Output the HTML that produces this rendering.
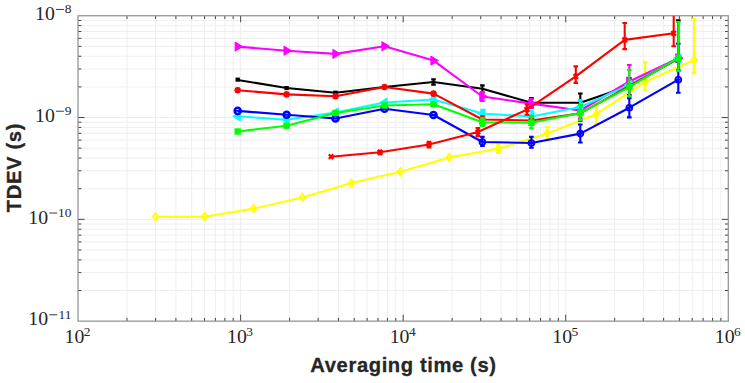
<!DOCTYPE html><html><head><meta charset="utf-8"><style>html,body{margin:0;padding:0;background:#fff;}svg{display:block}</style></head><body>
<svg width="745" height="383" viewBox="0 0 745 383">
<rect width="745" height="383" fill="#fff"/>
<path d="M126.99 15.75V321.15M155.61 15.75V321.15M175.92 15.75V321.15M191.68 15.75V321.15M204.55 15.75V321.15M215.43 15.75V321.15M224.86 15.75V321.15M233.17 15.75V321.15M240.61 15.75V321.15M289.55 15.75V321.15M318.17 15.75V321.15M338.48 15.75V321.15M354.24 15.75V321.15M367.11 15.75V321.15M377.99 15.75V321.15M387.42 15.75V321.15M395.74 15.75V321.15M403.18 15.75V321.15M452.11 15.75V321.15M480.74 15.75V321.15M501.05 15.75V321.15M516.80 15.75V321.15M529.67 15.75V321.15M540.56 15.75V321.15M549.98 15.75V321.15M558.30 15.75V321.15M565.74 15.75V321.15M614.67 15.75V321.15M643.30 15.75V321.15M663.61 15.75V321.15M679.36 15.75V321.15M692.24 15.75V321.15M703.12 15.75V321.15M712.55 15.75V321.15M720.86 15.75V321.15M78.05 290.51H728.30M78.05 272.58H728.30M78.05 259.86H728.30M78.05 249.99H728.30M78.05 241.93H728.30M78.05 235.12H728.30M78.05 229.22H728.30M78.05 224.01H728.30M78.05 219.35H728.30M78.05 188.71H728.30M78.05 170.78H728.30M78.05 158.06H728.30M78.05 148.19H728.30M78.05 140.13H728.30M78.05 133.32H728.30M78.05 127.42H728.30M78.05 122.21H728.30M78.05 117.55H728.30M78.05 86.91H728.30M78.05 68.98H728.30M78.05 56.26H728.30M78.05 46.39H728.30M78.05 38.33H728.30M78.05 31.52H728.30M78.05 25.62H728.30M78.05 20.41H728.30" stroke="#efefef" stroke-width="1" fill="none"/>
<path d="M126.99 321.15v-3.3M126.99 15.75v3.3M155.61 321.15v-3.3M155.61 15.75v3.3M175.92 321.15v-3.3M175.92 15.75v3.3M191.68 321.15v-3.3M191.68 15.75v3.3M204.55 321.15v-3.3M204.55 15.75v3.3M215.43 321.15v-3.3M215.43 15.75v3.3M224.86 321.15v-3.3M224.86 15.75v3.3M233.17 321.15v-3.3M233.17 15.75v3.3M240.61 321.15v-6.5M240.61 15.75v6.5M289.55 321.15v-3.3M289.55 15.75v3.3M318.17 321.15v-3.3M318.17 15.75v3.3M338.48 321.15v-3.3M338.48 15.75v3.3M354.24 321.15v-3.3M354.24 15.75v3.3M367.11 321.15v-3.3M367.11 15.75v3.3M377.99 321.15v-3.3M377.99 15.75v3.3M387.42 321.15v-3.3M387.42 15.75v3.3M395.74 321.15v-3.3M395.74 15.75v3.3M403.18 321.15v-6.5M403.18 15.75v6.5M452.11 321.15v-3.3M452.11 15.75v3.3M480.74 321.15v-3.3M480.74 15.75v3.3M501.05 321.15v-3.3M501.05 15.75v3.3M516.80 321.15v-3.3M516.80 15.75v3.3M529.67 321.15v-3.3M529.67 15.75v3.3M540.56 321.15v-3.3M540.56 15.75v3.3M549.98 321.15v-3.3M549.98 15.75v3.3M558.30 321.15v-3.3M558.30 15.75v3.3M565.74 321.15v-6.5M565.74 15.75v6.5M614.67 321.15v-3.3M614.67 15.75v3.3M643.30 321.15v-3.3M643.30 15.75v3.3M663.61 321.15v-3.3M663.61 15.75v3.3M679.36 321.15v-3.3M679.36 15.75v3.3M692.24 321.15v-3.3M692.24 15.75v3.3M703.12 321.15v-3.3M703.12 15.75v3.3M712.55 321.15v-3.3M712.55 15.75v3.3M720.86 321.15v-3.3M720.86 15.75v3.3M78.05 290.51h3.3M728.30 290.51h-3.3M78.05 272.58h3.3M728.30 272.58h-3.3M78.05 259.86h3.3M728.30 259.86h-3.3M78.05 249.99h3.3M728.30 249.99h-3.3M78.05 241.93h3.3M728.30 241.93h-3.3M78.05 235.12h3.3M728.30 235.12h-3.3M78.05 229.22h3.3M728.30 229.22h-3.3M78.05 224.01h3.3M728.30 224.01h-3.3M78.05 219.35h6.5M728.30 219.35h-6.5M78.05 188.71h3.3M728.30 188.71h-3.3M78.05 170.78h3.3M728.30 170.78h-3.3M78.05 158.06h3.3M728.30 158.06h-3.3M78.05 148.19h3.3M728.30 148.19h-3.3M78.05 140.13h3.3M728.30 140.13h-3.3M78.05 133.32h3.3M728.30 133.32h-3.3M78.05 127.42h3.3M728.30 127.42h-3.3M78.05 122.21h3.3M728.30 122.21h-3.3M78.05 117.55h6.5M728.30 117.55h-6.5M78.05 86.91h3.3M728.30 86.91h-3.3M78.05 68.98h3.3M728.30 68.98h-3.3M78.05 56.26h3.3M728.30 56.26h-3.3M78.05 46.39h3.3M728.30 46.39h-3.3M78.05 38.33h3.3M728.30 38.33h-3.3M78.05 31.52h3.3M728.30 31.52h-3.3M78.05 25.62h3.3M728.30 25.62h-3.3M78.05 20.41h3.3M728.30 20.41h-3.3" stroke="#444" stroke-width="1" fill="none"/>
<rect x="78.05" y="15.75" width="650.25" height="305.40" stroke="#929292" stroke-width="1.25" fill="none"/>
<g clip-path="url(#cp)">
<defs><clipPath id="cp"><rect x="78.05" y="15.75" width="650.25" height="305.4"/></clipPath></defs>
<path d="M155.60 216.80L204.50 216.80L253.50 208.60L302.50 197.40L351.40 183.10L400.40 171.80L449.30 157.40L498.30 148.70L547.20 133.50L596.20 114.20L645.10 82.00L694.10 60.00" stroke="#ffff00" stroke-width="2.1" fill="none" stroke-linejoin="round"/>
<path d="M498.30 144.20V153.00M496.00 144.20h4.6M496.00 153.00h4.6" stroke="#ffff00" stroke-width="2.1" fill="none"/>
<path d="M547.20 127.20V139.30M544.90 127.20h4.6M544.90 139.30h4.6" stroke="#ffff00" stroke-width="2.1" fill="none"/>
<path d="M596.20 104.00V124.00M593.90 104.00h4.6M593.90 124.00h4.6" stroke="#ffff00" stroke-width="2.1" fill="none"/>
<path d="M645.10 62.00V90.30M642.80 62.00h4.6M642.80 90.30h4.6" stroke="#ffff00" stroke-width="2.1" fill="none"/>
<path d="M694.10 18.80V73.20M691.80 18.80h4.6M691.80 73.20h4.6" stroke="#ffff00" stroke-width="2.1" fill="none"/>
<path d="M155.60 211.60L159.50 216.80L155.60 222.00L151.70 216.80ZM155.60 214.60L154.00 216.80L155.60 219.00L157.20 216.80Z" fill="#ffff00" fill-rule="evenodd"/>
<path d="M204.50 211.60L208.40 216.80L204.50 222.00L200.60 216.80ZM204.50 214.60L202.90 216.80L204.50 219.00L206.10 216.80Z" fill="#ffff00" fill-rule="evenodd"/>
<path d="M253.50 203.40L257.40 208.60L253.50 213.80L249.60 208.60ZM253.50 206.40L251.90 208.60L253.50 210.80L255.10 208.60Z" fill="#ffff00" fill-rule="evenodd"/>
<path d="M302.50 192.20L306.40 197.40L302.50 202.60L298.60 197.40ZM302.50 195.20L300.90 197.40L302.50 199.60L304.10 197.40Z" fill="#ffff00" fill-rule="evenodd"/>
<path d="M351.40 177.90L355.30 183.10L351.40 188.30L347.50 183.10ZM351.40 180.90L349.80 183.10L351.40 185.30L353.00 183.10Z" fill="#ffff00" fill-rule="evenodd"/>
<path d="M400.40 166.60L404.30 171.80L400.40 177.00L396.50 171.80ZM400.40 169.60L398.80 171.80L400.40 174.00L402.00 171.80Z" fill="#ffff00" fill-rule="evenodd"/>
<path d="M449.30 152.20L453.20 157.40L449.30 162.60L445.40 157.40ZM449.30 155.20L447.70 157.40L449.30 159.60L450.90 157.40Z" fill="#ffff00" fill-rule="evenodd"/>
<path d="M498.30 143.50L502.20 148.70L498.30 153.90L494.40 148.70ZM498.30 146.50L496.70 148.70L498.30 150.90L499.90 148.70Z" fill="#ffff00" fill-rule="evenodd"/>
<path d="M547.20 128.30L551.10 133.50L547.20 138.70L543.30 133.50ZM547.20 131.30L545.60 133.50L547.20 135.70L548.80 133.50Z" fill="#ffff00" fill-rule="evenodd"/>
<path d="M596.20 109.00L600.10 114.20L596.20 119.40L592.30 114.20ZM596.20 112.00L594.60 114.20L596.20 116.40L597.80 114.20Z" fill="#ffff00" fill-rule="evenodd"/>
<path d="M645.10 76.80L649.00 82.00L645.10 87.20L641.20 82.00ZM645.10 79.80L643.50 82.00L645.10 84.20L646.70 82.00Z" fill="#ffff00" fill-rule="evenodd"/>
<path d="M694.10 54.80L698.00 60.00L694.10 65.20L690.20 60.00ZM694.10 57.80L692.50 60.00L694.10 62.20L695.70 60.00Z" fill="#ffff00" fill-rule="evenodd"/>
<path d="M237.70 80.00L286.60 88.00L335.50 92.80L384.50 87.00L433.50 82.00L482.40 88.70L531.40 102.70L580.30 102.70L629.30 86.00L678.30 58.50" stroke="#000000" stroke-width="2.1" fill="none" stroke-linejoin="round"/>
<rect x="235.50" y="77.60" width="4.4" height="4.10" fill="#000000"/>
<rect x="284.40" y="86.00" width="4.4" height="4.10" fill="#000000"/>
<rect x="333.30" y="90.60" width="4.4" height="4.10" fill="#000000"/>
<path d="M433.50 79.40V84.60M431.20 79.40h4.6M431.20 84.60h4.6" stroke="#000000" stroke-width="2.1" fill="none"/>
<path d="M482.40 85.40V92.50M480.10 85.40h4.6M480.10 92.50h4.6" stroke="#000000" stroke-width="2.1" fill="none"/>
<path d="M531.40 98.00V107.50M529.10 98.00h4.6M529.10 107.50h4.6" stroke="#000000" stroke-width="2.1" fill="none"/>
<path d="M580.30 93.50V112.00M578.00 93.50h4.6M578.00 112.00h4.6" stroke="#000000" stroke-width="2.1" fill="none"/>
<path d="M629.30 78.00V95.00M627.00 78.00h4.6M627.00 95.00h4.6" stroke="#000000" stroke-width="2.1" fill="none"/>
<path d="M678.30 20.40V70.40M676.00 20.40h4.6M676.00 70.40h4.6" stroke="#000000" stroke-width="2.1" fill="none"/>










<path d="M237.70 46.60L286.60 50.70L335.50 53.90L384.50 46.20L433.50 60.60L482.40 96.50L531.40 103.60L580.30 110.50L629.30 81.50L678.30 58.30" stroke="#ff00ff" stroke-width="2.1" fill="none" stroke-linejoin="round"/>
<path d="M482.40 92.00V101.00M480.10 92.00h4.6M480.10 101.00h4.6" stroke="#ff00ff" stroke-width="2.1" fill="none"/>
<path d="M531.40 99.00V108.00M529.10 99.00h4.6M529.10 108.00h4.6" stroke="#ff00ff" stroke-width="2.1" fill="none"/>
<path d="M580.30 100.50V118.60M578.00 100.50h4.6M578.00 118.60h4.6" stroke="#ff00ff" stroke-width="2.1" fill="none"/>
<path d="M629.30 65.00V96.00M627.00 65.00h4.6M627.00 96.00h4.6" stroke="#ff00ff" stroke-width="2.1" fill="none"/>
<path d="M235.10 42.00L242.60 46.60L235.10 51.20Z" fill="#ff00ff" stroke="#ff00ff" stroke-width="1"/>
<path d="M284.00 46.10L291.50 50.70L284.00 55.30Z" fill="#ff00ff" stroke="#ff00ff" stroke-width="1"/>
<path d="M332.90 49.30L340.40 53.90L332.90 58.50Z" fill="#ff00ff" stroke="#ff00ff" stroke-width="1"/>
<path d="M381.90 41.60L389.40 46.20L381.90 50.80Z" fill="#ff00ff" stroke="#ff00ff" stroke-width="1"/>
<path d="M430.90 56.00L438.40 60.60L430.90 65.20Z" fill="#ff00ff" stroke="#ff00ff" stroke-width="1"/>
<path d="M479.80 91.90L487.30 96.50L479.80 101.10Z" fill="#ff00ff" stroke="#ff00ff" stroke-width="1"/>
<path d="M528.80 99.00L536.30 103.60L528.80 108.20Z" fill="#ff00ff" stroke="#ff00ff" stroke-width="1"/>
<path d="M577.70 105.90L585.20 110.50L577.70 115.10Z" fill="#ff00ff" stroke="#ff00ff" stroke-width="1"/>
<path d="M626.70 76.90L634.20 81.50L626.70 86.10Z" fill="#ff00ff" stroke="#ff00ff" stroke-width="1"/>
<path d="M675.70 53.70L683.20 58.30L675.70 62.90Z" fill="#ff00ff" stroke="#ff00ff" stroke-width="1"/>
<path d="M237.70 116.30L286.60 119.70L335.50 112.50L384.50 102.50L433.50 99.50L482.40 113.50L531.40 116.50L580.30 107.00L629.30 85.00L678.30 58.20" stroke="#00ffff" stroke-width="2.1" fill="none" stroke-linejoin="round"/>
<path d="M482.40 109.80V117.00M480.10 109.80h4.6M480.10 117.00h4.6" stroke="#00ffff" stroke-width="2.1" fill="none"/>
<path d="M531.40 111.00V121.00M529.10 111.00h4.6M529.10 121.00h4.6" stroke="#00ffff" stroke-width="2.1" fill="none"/>
<path d="M580.30 100.40V113.00M578.00 100.40h4.6M578.00 113.00h4.6" stroke="#00ffff" stroke-width="2.1" fill="none"/>
<path d="M240.30 111.70L232.80 116.30L240.30 120.90Z" fill="#00ffff" stroke="#00ffff" stroke-width="1"/>
<path d="M289.20 115.10L281.70 119.70L289.20 124.30Z" fill="#00ffff" stroke="#00ffff" stroke-width="1"/>
<path d="M338.10 107.90L330.60 112.50L338.10 117.10Z" fill="#00ffff" stroke="#00ffff" stroke-width="1"/>
<path d="M387.10 97.90L379.60 102.50L387.10 107.10Z" fill="#00ffff" stroke="#00ffff" stroke-width="1"/>
<path d="M436.10 94.90L428.60 99.50L436.10 104.10Z" fill="#00ffff" stroke="#00ffff" stroke-width="1"/>
<path d="M485.00 108.90L477.50 113.50L485.00 118.10Z" fill="#00ffff" stroke="#00ffff" stroke-width="1"/>
<path d="M534.00 111.90L526.50 116.50L534.00 121.10Z" fill="#00ffff" stroke="#00ffff" stroke-width="1"/>
<path d="M582.90 102.40L575.40 107.00L582.90 111.60Z" fill="#00ffff" stroke="#00ffff" stroke-width="1"/>
<path d="M631.90 80.40L624.40 85.00L631.90 89.60Z" fill="#00ffff" stroke="#00ffff" stroke-width="1"/>
<path d="M680.90 53.60L673.40 58.20L680.90 62.80Z" fill="#00ffff" stroke="#00ffff" stroke-width="1"/>
<path d="M237.70 90.20L286.60 94.40L335.50 96.20L384.50 87.00L433.50 93.60L482.40 119.50L531.40 120.50L580.30 113.40L629.30 86.00L678.30 58.40" stroke="#ff0000" stroke-width="2.1" fill="none" stroke-linejoin="round"/>
<rect x="431.30" y="90.90" width="4.4" height="5.60" fill="#ff0000"/>
<path d="M482.40 116.30V123.00M480.10 116.30h4.6M480.10 123.00h4.6" stroke="#ff0000" stroke-width="2.1" fill="none"/>
<path d="M531.40 116.00V125.00M529.10 116.00h4.6M529.10 125.00h4.6" stroke="#ff0000" stroke-width="2.1" fill="none"/>
<path d="M580.30 105.00V121.00M578.00 105.00h4.6M578.00 121.00h4.6" stroke="#ff0000" stroke-width="2.1" fill="none"/>
<path d="M237.70 86.90V93.50M234.40 90.20H241.00M235.30 87.80L240.10 92.60M240.10 87.80L235.30 92.60" stroke="#ff0000" stroke-width="2" fill="none"/>
<path d="M286.60 91.10V97.70M283.30 94.40H289.90M284.20 92.00L289.00 96.80M289.00 92.00L284.20 96.80" stroke="#ff0000" stroke-width="2" fill="none"/>
<path d="M335.50 92.90V99.50M332.20 96.20H338.80M333.10 93.80L337.90 98.60M337.90 93.80L333.10 98.60" stroke="#ff0000" stroke-width="2" fill="none"/>
<path d="M384.50 83.70V90.30M381.20 87.00H387.80M382.10 84.60L386.90 89.40M386.90 84.60L382.10 89.40" stroke="#ff0000" stroke-width="2" fill="none"/>
<path d="M433.50 90.30V96.90M430.20 93.60H436.80M431.10 91.20L435.90 96.00M435.90 91.20L431.10 96.00" stroke="#ff0000" stroke-width="2" fill="none"/>
<path d="M482.40 116.20V122.80M479.10 119.50H485.70M480.00 117.10L484.80 121.90M484.80 117.10L480.00 121.90" stroke="#ff0000" stroke-width="2" fill="none"/>
<path d="M531.40 117.20V123.80M528.10 120.50H534.70M529.00 118.10L533.80 122.90M533.80 118.10L529.00 122.90" stroke="#ff0000" stroke-width="2" fill="none"/>
<path d="M580.30 110.10V116.70M577.00 113.40H583.60M577.90 111.00L582.70 115.80M582.70 111.00L577.90 115.80" stroke="#ff0000" stroke-width="2" fill="none"/>
<path d="M629.30 82.70V89.30M626.00 86.00H632.60M626.90 83.60L631.70 88.40M631.70 83.60L626.90 88.40" stroke="#ff0000" stroke-width="2" fill="none"/>
<path d="M678.30 55.10V61.70M675.00 58.40H681.60M675.90 56.00L680.70 60.80M680.70 56.00L675.90 60.80" stroke="#ff0000" stroke-width="2" fill="none"/>
<path d="M237.70 110.90L286.60 114.70L335.50 118.50L384.50 108.80L433.50 115.00L482.40 142.00L531.40 143.00L580.30 133.60L629.30 107.70L678.30 79.70" stroke="#0000ff" stroke-width="2.1" fill="none" stroke-linejoin="round"/>
<path d="M482.40 136.90V146.00M480.10 136.90h4.6M480.10 146.00h4.6" stroke="#0000ff" stroke-width="2.1" fill="none"/>
<path d="M531.40 136.90V147.80M529.10 136.90h4.6M529.10 147.80h4.6" stroke="#0000ff" stroke-width="2.1" fill="none"/>
<path d="M580.30 124.50V142.50M578.00 124.50h4.6M578.00 142.50h4.6" stroke="#0000ff" stroke-width="2.1" fill="none"/>
<path d="M629.30 98.30V117.40M627.00 98.30h4.6M627.00 117.40h4.6" stroke="#0000ff" stroke-width="2.1" fill="none"/>
<path d="M678.30 43.80V92.70M676.00 43.80h4.6M676.00 92.70h4.6" stroke="#0000ff" stroke-width="2.1" fill="none"/>
<circle cx="237.7" cy="110.9" r="3.05" fill="none" stroke="#0000ff" stroke-width="2.5"/><path d="M235.50 110.90h4.4" stroke="#0000ff" stroke-width="1.6"/>
<circle cx="286.6" cy="114.7" r="3.05" fill="none" stroke="#0000ff" stroke-width="2.5"/><path d="M284.40 114.70h4.4" stroke="#0000ff" stroke-width="1.6"/>
<circle cx="335.5" cy="118.5" r="3.05" fill="none" stroke="#0000ff" stroke-width="2.5"/><path d="M333.30 118.50h4.4" stroke="#0000ff" stroke-width="1.6"/>
<circle cx="384.5" cy="108.8" r="3.05" fill="none" stroke="#0000ff" stroke-width="2.5"/><path d="M382.30 108.80h4.4" stroke="#0000ff" stroke-width="1.6"/>
<circle cx="433.5" cy="115" r="3.05" fill="none" stroke="#0000ff" stroke-width="2.5"/><path d="M431.30 115.00h4.4" stroke="#0000ff" stroke-width="1.6"/>
<circle cx="482.4" cy="142" r="2.95" fill="none" stroke="#0000ff" stroke-width="1.75"/><path d="M480.20 142.00h4.4" stroke="#0000ff" stroke-width="1.6"/>
<circle cx="531.4" cy="143" r="2.95" fill="none" stroke="#0000ff" stroke-width="1.75"/><path d="M529.20 143.00h4.4" stroke="#0000ff" stroke-width="1.6"/>
<circle cx="580.3" cy="133.6" r="2.95" fill="none" stroke="#0000ff" stroke-width="1.75"/><path d="M578.10 133.60h4.4" stroke="#0000ff" stroke-width="1.6"/>
<circle cx="629.3" cy="107.7" r="2.95" fill="none" stroke="#0000ff" stroke-width="1.75"/><path d="M627.10 107.70h4.4" stroke="#0000ff" stroke-width="1.6"/>
<circle cx="678.3" cy="79.7" r="2.95" fill="none" stroke="#0000ff" stroke-width="1.75"/><path d="M676.10 79.70h4.4" stroke="#0000ff" stroke-width="1.6"/>
<path d="M237.70 131.50L286.60 125.70L335.50 113.00L384.50 105.50L433.50 104.30L482.40 122.20L531.40 122.80L580.30 113.00L629.30 87.10L678.30 58.20" stroke="#00ff00" stroke-width="2.1" fill="none" stroke-linejoin="round"/>
<path d="M482.40 118.00V126.00M480.10 118.00h4.6M480.10 126.00h4.6" stroke="#00ff00" stroke-width="2.1" fill="none"/>
<path d="M531.40 116.40V128.20M529.10 116.40h4.6M529.10 128.20h4.6" stroke="#00ff00" stroke-width="2.1" fill="none"/>
<path d="M580.30 105.00V120.00M578.00 105.00h4.6M578.00 120.00h4.6" stroke="#00ff00" stroke-width="2.1" fill="none"/>
<path d="M629.30 69.90V96.00M627.00 69.90h4.6M627.00 96.00h4.6" stroke="#00ff00" stroke-width="2.1" fill="none"/>
<path d="M678.30 22.00V70.90M676.00 22.00h4.6M676.00 70.90h4.6" stroke="#00ff00" stroke-width="2.1" fill="none"/>
<rect x="234.50" y="128.30" width="6.4" height="6.4" fill="#00ff00"/>
<rect x="283.40" y="122.50" width="6.4" height="6.4" fill="#00ff00"/>
<rect x="332.30" y="109.80" width="6.4" height="6.4" fill="#00ff00"/>
<rect x="381.30" y="102.30" width="6.4" height="6.4" fill="#00ff00"/>
<rect x="430.30" y="101.10" width="6.4" height="6.4" fill="#00ff00"/>
<rect x="479.20" y="119.00" width="6.4" height="6.4" fill="#00ff00"/>
<rect x="528.20" y="119.60" width="6.4" height="6.4" fill="#00ff00"/>
<rect x="577.10" y="109.80" width="6.4" height="6.4" fill="#00ff00"/>
<rect x="626.10" y="83.90" width="6.4" height="6.4" fill="#00ff00"/>
<rect x="675.10" y="55.00" width="6.4" height="6.4" fill="#00ff00"/>
<path d="M331.10 156.70L380.00 152.30L429.00 144.50L477.90 132.00L526.90 109.60L575.80 76.40L624.70 39.90L673.70 33.30" stroke="#ff0000" stroke-width="2.1" fill="none" stroke-linejoin="round"/>
<rect x="377.80" y="149.50" width="4.4" height="5.80" fill="#ff0000"/>
<path d="M429.00 141.80V147.40M426.70 141.80h4.6M426.70 147.40h4.6" stroke="#ff0000" stroke-width="2.1" fill="none"/>
<path d="M477.90 128.00V136.10M475.60 128.00h4.6M475.60 136.10h4.6" stroke="#ff0000" stroke-width="2.1" fill="none"/>
<path d="M526.90 104.50V114.70M524.60 104.50h4.6M524.60 114.70h4.6" stroke="#ff0000" stroke-width="2.1" fill="none"/>
<path d="M575.80 66.40V82.90M573.50 66.40h4.6M573.50 82.90h4.6" stroke="#ff0000" stroke-width="2.1" fill="none"/>
<path d="M624.70 23.00V49.10M622.40 23.00h4.6M622.40 49.10h4.6" stroke="#ff0000" stroke-width="2.1" fill="none"/>
<path d="M673.70 14.00V46.20M671.40 14.00h4.6M671.40 46.20h4.6" stroke="#ff0000" stroke-width="2.1" fill="none"/>
<path d="M328.80 154.40L333.40 159.00M333.40 154.40L328.80 159.00" stroke="#ff0000" stroke-width="2.2" fill="none"/>
<path d="M377.70 150.00L382.30 154.60M382.30 150.00L377.70 154.60" stroke="#ff0000" stroke-width="2.2" fill="none"/>
<path d="M426.70 142.20L431.30 146.80M431.30 142.20L426.70 146.80" stroke="#ff0000" stroke-width="2.2" fill="none"/>
<path d="M475.60 129.70L480.20 134.30M480.20 129.70L475.60 134.30" stroke="#ff0000" stroke-width="2.2" fill="none"/>
<path d="M524.60 107.30L529.20 111.90M529.20 107.30L524.60 111.90" stroke="#ff0000" stroke-width="2.2" fill="none"/>
<path d="M573.50 74.10L578.10 78.70M578.10 74.10L573.50 78.70" stroke="#ff0000" stroke-width="2.2" fill="none"/>
<path d="M622.40 37.60L627.00 42.20M627.00 37.60L622.40 42.20" stroke="#ff0000" stroke-width="2.2" fill="none"/>
<path d="M671.40 31.00L676.00 35.60M676.00 31.00L671.40 35.60" stroke="#ff0000" stroke-width="2.2" fill="none"/>
</g>
<text x="71.50" y="13.15" text-anchor="end" font-family="Liberation Serif" font-size="13.4" fill="#262626">8</text><rect x="56.00" y="8.95" width="7.9" height="0.9" fill="#262626"/><text x="54.85" y="20.05" text-anchor="end" font-family="Liberation Serif" font-size="19.8" fill="#262626">10</text><text x="71.50" y="114.95" text-anchor="end" font-family="Liberation Serif" font-size="13.4" fill="#262626">9</text><rect x="56.00" y="110.75" width="7.9" height="0.9" fill="#262626"/><text x="54.85" y="121.85" text-anchor="end" font-family="Liberation Serif" font-size="19.8" fill="#262626">10</text><text x="71.50" y="216.75" text-anchor="end" font-family="Liberation Serif" font-size="13.4" fill="#262626">10</text><rect x="49.30" y="212.55" width="7.9" height="0.9" fill="#262626"/><text x="48.15" y="223.65" text-anchor="end" font-family="Liberation Serif" font-size="19.8" fill="#262626">10</text><text x="71.50" y="318.55" text-anchor="end" font-family="Liberation Serif" font-size="13.4" fill="#262626">11</text><rect x="49.30" y="314.35" width="7.9" height="0.9" fill="#262626"/><text x="48.15" y="325.45" text-anchor="end" font-family="Liberation Serif" font-size="19.8" fill="#262626">10</text><text x="64.55" y="343.10" font-family="Liberation Serif" font-size="19.8" fill="#262626">10</text><text x="83.75" y="336.20" font-family="Liberation Serif" font-size="13.4" fill="#262626">2</text><text x="227.11" y="343.10" font-family="Liberation Serif" font-size="19.8" fill="#262626">10</text><text x="246.31" y="336.20" font-family="Liberation Serif" font-size="13.4" fill="#262626">3</text><text x="389.68" y="343.10" font-family="Liberation Serif" font-size="19.8" fill="#262626">10</text><text x="408.88" y="336.20" font-family="Liberation Serif" font-size="13.4" fill="#262626">4</text><text x="552.24" y="343.10" font-family="Liberation Serif" font-size="19.8" fill="#262626">10</text><text x="571.44" y="336.20" font-family="Liberation Serif" font-size="13.4" fill="#262626">5</text><text x="714.80" y="343.10" font-family="Liberation Serif" font-size="19.8" fill="#262626">10</text><text x="734.00" y="336.20" font-family="Liberation Serif" font-size="13.4" fill="#262626">6</text>
<text x="403.15" y="371.6" text-anchor="middle" font-family="Liberation Sans" font-weight="bold" font-size="20.2" textLength="185.6" lengthAdjust="spacing" fill="#262626" stroke="#262626" stroke-width="0.3">Averaging time (s)</text>
<text transform="translate(21.3 167.9) rotate(-90)" x="0" y="0" text-anchor="middle" font-family="Liberation Sans" font-weight="bold" font-size="20.2" textLength="88.6" lengthAdjust="spacing" fill="#262626" stroke="#262626" stroke-width="0.3">TDEV (s)</text>
</svg></body></html>
